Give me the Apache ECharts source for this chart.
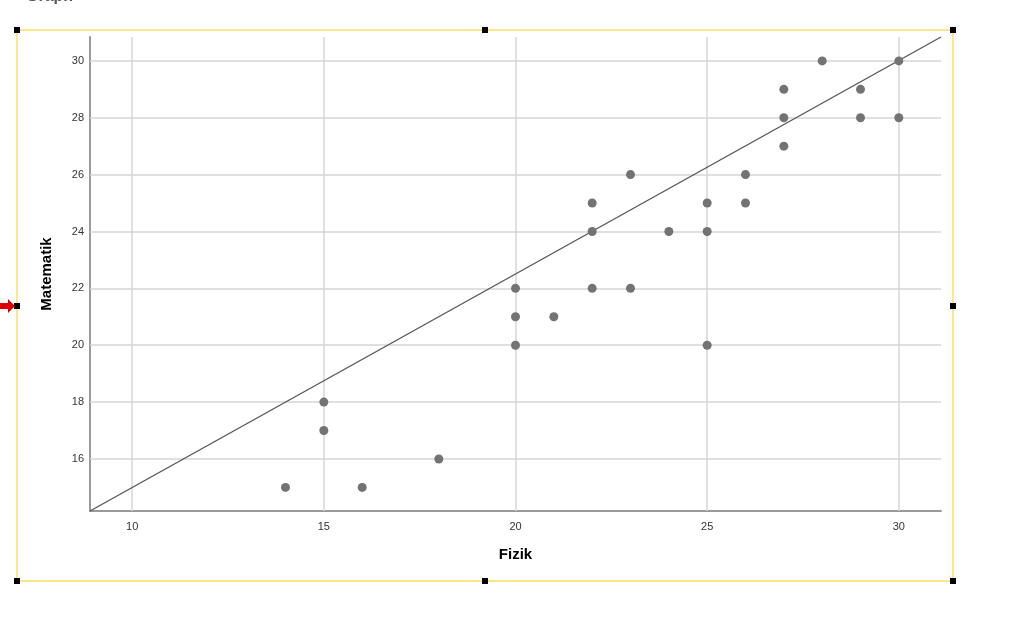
<!DOCTYPE html>
<html>
<head>
<meta charset="utf-8">
<script src="https://cdn.jsdelivr.net/npm/echarts@6/dist/echarts.min.js"></script>
<style>
html,body{margin:0;padding:0;background:#fff;}
#main{width:1024px;height:623px;}
</style>
</head>
<body>
<div id="main"></div>
<script>
// Data
const fizik     = [14, 15, 15, 16, 18, 20, 20, 20, 21, 22, 22, 22, 23, 23, 24, 25, 25, 25, 26, 26, 27, 27, 27, 28, 29, 29, 30, 30];
const matematik = [15, 18, 17, 15, 16, 22, 21, 20, 21, 25, 24, 22, 26, 22, 24, 25, 24, 20, 26, 25, 29, 28, 27, 30, 29, 28, 30, 28];
const lineX = [8.9, 31.1];
const lineY = [14.17, 30.84];
const xTicks = [10, 15, 20, 25, 30];
const yTicks = [16, 18, 20, 22, 24, 26, 28, 30];

const points = fizik.map((v, i) => [v, matematik[i]]);
const fitLine = lineX.map((v, i) => [v, lineY[i]]);

const chart = echarts.init(document.getElementById('main'));
const handle = (x, y) => ({type:'rect', shape:{x:x-3, y:y-3, width:6, height:6}, style:{fill:'#000'}, silent:true, z:100});
const gridColor = '#d6d6d6';
const font = 'Liberation Sans, Arial, sans-serif';

chart.setOption({
  animation: false,
  backgroundColor: '#fff',
  grid: {left: 90, right: 83, top: 37, bottom: 112, containLabel: false},
  xAxis: {
    type: 'value', min: 8.9, max: 31.1,
    name: 'Fizik', nameLocation: 'middle', nameGap: 36,
    nameTextStyle: {fontFamily: font, fontWeight: 'bold', fontSize: 15, color: '#000'},
    axisLine: {show: true, lineStyle: {color: '#999', width: 2}},
    axisTick: {show: false},
    splitLine: {show: false},
    axisLabel: {customValues: xTicks, fontFamily: font, fontSize: 11, color: '#333', margin: 10}
  },
  yAxis: {
    type: 'value', min: 14.17, max: 30.84,
    name: 'Matematik', nameLocation: 'middle', nameGap: 36,
    nameTextStyle: {fontFamily: font, fontWeight: 'bold', fontSize: 15, color: '#000'},
    axisLine: {show: true, lineStyle: {color: '#999', width: 2}},
    axisTick: {show: false},
    splitLine: {show: false},
    axisLabel: {customValues: yTicks, fontFamily: font, fontSize: 11, color: '#333', margin: 6}
  },
  series: [
    {
      type: 'line', data: [], silent: true, z: 1,
      markLine: {
        silent: true, symbol: ['none', 'none'], label: {show: false},
        animation: false, z: 1,
        lineStyle: {color: gridColor, type: 'solid', width: 1.5},
        data: xTicks.map(v => ({xAxis: v})).concat(yTicks.map(v => ({yAxis: v})))
      }
    },
    {
      type: 'line', data: fitLine, symbol: 'none', silent: true, z: 3,
      lineStyle: {color: '#555', width: 1.3}
    },
    {
      type: 'scatter', data: points, symbolSize: 9, z: 4,
      itemStyle: {color: '#737373', opacity: 1}
    }
  ],
  graphic: [
    {type:'text', left: 26, top: -11, style:{text:'Graph', font:'bold 16px Liberation Sans, Arial, sans-serif', fill:'#555'}, silent:true},
    {type:'rect', shape:{x:17, y:30, width:936, height:551}, style:{fill:'none', stroke:'#ffe58a', lineWidth:2}, silent:true, z:99},
    handle(17,30), handle(485,30), handle(953,30),
    handle(17,306), handle(953,306),
    handle(17,581), handle(485,581), handle(953,581),
    {type:'polygon', shape:{points:[[0,303],[8,303],[8,299],[15,306],[8,313],[8,309],[0,309]]}, style:{fill:'#e00000'}, silent:true, z:100}
  ]
});
</script>
</body>
</html>
